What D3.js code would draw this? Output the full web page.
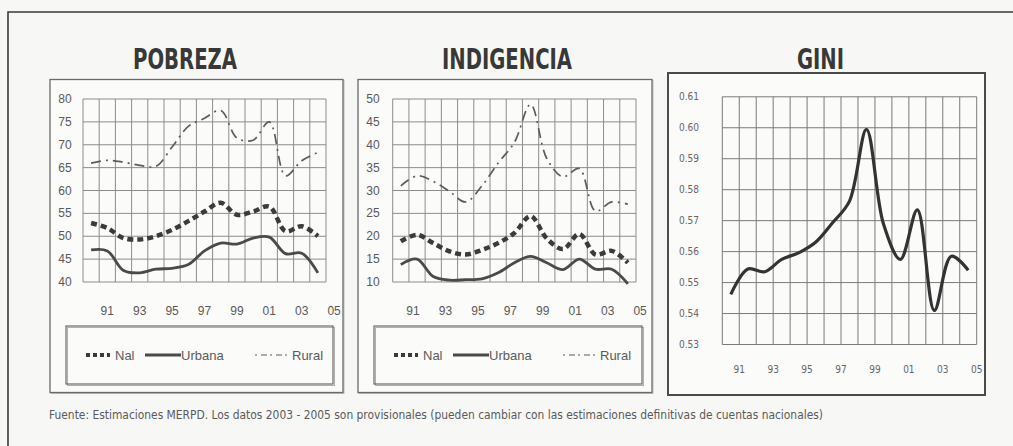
<!DOCTYPE html>
<html>
<head>
<meta charset="utf-8">
<script src="https://cdn.jsdelivr.net/npm/d3@7"></script>
<style>
  body { margin: 0; background: #f7f7f5; }
  svg { display: block; }
</style>
</head>
<body>
<div id="chart"></div>
<script>
// years covered by every series (one value per cell of the grid)
const years = [1991, 1992, 1993, 1994, 1995, 1996, 1997, 1998, 1999, 2000, 2001, 2002, 2003, 2004, 2005];
const tickLabels = ["91", "93", "95", "97", "99", "01", "03", "05"];
const tickCells = [1, 3, 5, 7, 9, 11, 13, 15];

// POBREZA (%)
const pobNal = [52.9, 51.8, 49.6, 49.3, 50.0, 51.4, 53.3, 55.4, 57.3, 54.7, 55.4, 56.5, 51.1, 52.2, 50.0];
const pobUrbana = [47.0, 46.8, 42.5, 42.0, 42.8, 43.0, 43.8, 46.8, 48.5, 48.3, 49.6, 49.8, 46.2, 46.3, 42.0];
const pobRural = [66.0, 66.6, 66.2, 65.5, 65.3, 69.5, 74.0, 75.8, 77.5, 71.5, 71.0, 75.0, 63.2, 66.5, 68.3];
const pobTicks = [40, 45, 50, 55, 60, 65, 70, 75, 80];

// INDIGENCIA (%)
const indNal = [18.9, 20.3, 18.5, 16.7, 16.0, 17.0, 18.5, 20.7, 24.4, 19.5, 17.2, 20.5, 16.0, 16.8, 14.2];
const indUrbana = [13.8, 15.0, 11.2, 10.4, 10.5, 10.7, 12.0, 14.2, 15.6, 14.2, 12.7, 15.0, 12.8, 12.8, 9.6];
const indRural = [31.0, 33.2, 32.0, 29.8, 27.5, 31.0, 36.0, 40.5, 48.8, 37.0, 33.0, 34.8, 25.5, 27.5, 27.0];
const indTicks = [10, 15, 20, 25, 30, 35, 40, 45, 50];

// GINI
const gini = [0.5462, 0.5544, 0.5535, 0.5575, 0.5596, 0.5630, 0.5693, 0.5763, 0.5995, 0.5690, 0.5575, 0.5735, 0.5410, 0.5585, 0.5540];
const giniTicks = [0.53, 0.54, 0.55, 0.56, 0.57, 0.58, 0.59, 0.60, 0.61];

const legendNames = ["Nal", "Urbana", "Rural"];

const W = 1013, H = 446;
const svg = d3.select("#chart").append("svg").attr("width", W).attr("height", H);
svg.append("rect").attr("width", W).attr("height", H).attr("fill", "#f7f7f5");

//outer page frame (left and top only)
svg.append("path").attr("d", "M8," + H + "V12H" + W)
    .attr("fill", "none").attr("stroke", "#3a3a3a").attr("stroke-width", 1.6);

const titleFont = "'Liberation Sans Narrow','DejaVu Sans Condensed','Liberation Sans',sans-serif";
const labelFont = "'Liberation Sans',Arial,sans-serif";

//line styles of the three series
const styles = {
    Nal: {width: 4.5, dash: "6,4", color: "#3b3b3b"},
    Urbana: {width: 2.8, dash: null, color: "#4a4a4a"},
    Rural: {width: 1.7, dash: "10,5,2,5", color: "#5c5c5c"}
};

function title(text, cx, len) {
    svg.append("text")
        .attr("x", cx).attr("y", 69)
        .attr("text-anchor", "middle")
        .attr("font-family", titleFont)
        .attr("font-weight", "bold")
        .attr("font-size", 29)
        .attr("fill", "#383838")
        .attr("textLength", len)
        .attr("lengthAdjust", "spacingAndGlyphs")
        .text(text);
}

function grid(g, x, y, yTicks, color) {
    g.selectAll("line.h").data(yTicks).enter().append("line")
        .attr("x1", x.range()[0]).attr("x2", x.range()[1])
        .attr("y1", d => y(d)).attr("y2", d => y(d))
        .attr("stroke", color).attr("stroke-width", 1);
    g.selectAll("line.v").data(d3.range(0, 16)).enter().append("line")
        .attr("x1", d => x(d)).attr("x2", d => x(d))
        .attr("y1", y.range()[0]).attr("y2", y.range()[1])
        .attr("stroke", color).attr("stroke-width", 1);
}

/**
 * Draw one of the two panels with Nal / Urbana / Rural lines and a legend box
 */
function drawPanel(opts) {
    const g = svg.append("g");
    //panel frame, slightly doubled like the scan
    g.append("rect").attr("x", opts.fx + 1).attr("y", 80.5).attr("width", opts.fw).attr("height", 313)
        .attr("fill", "none").attr("stroke", "#bdbdbd").attr("stroke-width", 1);
    g.append("rect").attr("x", opts.fx).attr("y", 79.5).attr("width", opts.fw).attr("height", 313)
        .attr("fill", "#fbfbfa").attr("stroke", "#6a6a6a").attr("stroke-width", 1.3);

    const x = d3.scaleLinear().domain([0, 15]).range([opts.px0, opts.px1]);
    const y = d3.scaleLinear().domain([opts.yTicks[0], opts.yTicks[opts.yTicks.length - 1]]).range([282, 99]);

    grid(g, x, y, opts.yTicks, "#8c8c8c");

    //y labels
    g.selectAll("text.y").data(opts.yTicks).enter().append("text")
        .attr("x", opts.fx + 15).attr("y", d => y(d) + 4)
        .attr("text-anchor", "middle")
        .attr("font-family", labelFont).attr("font-size", 12).attr("fill", "#595959")
        .text(d => d);
    //x labels, centred in the cells
    g.selectAll("text.x").data(tickLabels).enter().append("text")
        .attr("x", (d, i) => x(tickCells[i] + 0.5) + opts.xOff).attr("y", 315)
        .attr("text-anchor", "middle")
        .attr("font-family", labelFont).attr("font-size", 12).attr("fill", "#595959")
        .text(d => d);

    //the three series
    const line = d3.line()
        .x((d, i) => x(i + 0.5))
        .y(d => y(d))
        .curve(d3.curveCatmullRom.alpha(0.5));
    [["Rural", opts.rural], ["Nal", opts.nal], ["Urbana", opts.urbana]].forEach(function(s) {
        const st = styles[s[0]];
        g.append("path").datum(s[1])
            .attr("d", line)
            .attr("fill", "none")
            .attr("stroke", st.color)
            .attr("stroke-width", st.width)
            .attr("stroke-dasharray", st.dash)
            .attr("stroke-linejoin", "round");
    });

    //legend box
    const lx = opts.fx + 16, lw = opts.fw - 26;
    g.append("rect").attr("x", lx + 1.5).attr("y", 327.5).attr("width", lw).attr("height", 58)
        .attr("fill", "none").attr("stroke", "#b0b0b0").attr("stroke-width", 1);
    g.append("rect").attr("x", lx).attr("y", 326).attr("width", lw).attr("height", 58)
        .attr("fill", "none").attr("stroke", "#6a6a6a").attr("stroke-width", 1.2);

    const items = [
        {name: legendNames[0], x1: 36, x2: 60, tx: 65},
        {name: legendNames[1], x1: 95, x2: 131, tx: 131},
        {name: legendNames[2], x1: 205, x2: 239, tx: 242}
    ];
    items.forEach(function(it) {
        const st = styles[it.name];
        g.append("line")
            .attr("x1", opts.fx + it.x1).attr("x2", opts.fx + it.x2)
            .attr("y1", 355).attr("y2", 355)
            .attr("stroke", st.color)
            .attr("stroke-width", it.name == "Rural" ? 1.2 : (it.name == "Nal" ? 4 : 3.2))
            .attr("stroke-dasharray", it.name == "Nal" ? "4,3" : (it.name == "Rural" ? "2,4,6,3" : null));
        g.append("text")
            .attr("x", opts.fx + it.tx).attr("y", 359.5)
            .attr("font-family", labelFont).attr("font-size", 13).attr("fill", "#5a5a5a")
            .text(it.name);
    });
}

title("POBREZA", 185, 104);
title("INDIGENCIA", 507, 130);
title("GINI", 820.5, 47);

drawPanel({fx: 50, fw: 293, px0: 83, px1: 326, yTicks: pobTicks, xOff: 0,
    nal: pobNal, urbana: pobUrbana, rural: pobRural});
drawPanel({fx: 358, fw: 294, px0: 392.7, px1: 636, yTicks: indTicks, xOff: -4,
    nal: indNal, urbana: indUrbana, rural: indRural});

//GINI panel, thicker frame and no legend
(function() {
    const g = svg.append("g");
    g.append("rect").attr("x", 668).attr("y", 73).attr("width", 317).attr("height", 322)
        .attr("fill", "#fbfbfa").attr("stroke", "#4a4a4a").attr("stroke-width", 2);

    const x = d3.scaleLinear().domain([0, 15]).range([722.3, 976.7]);
    const y = d3.scaleLinear().domain([0.53, 0.61]).range([344.5, 96.8]);
    grid(g, x, y, giniTicks, "#7a7a7a");

    g.selectAll("text.y").data(giniTicks).enter().append("text")
        .attr("x", 689).attr("y", d => y(d) + 3.5)
        .attr("text-anchor", "middle")
        .attr("font-family", titleFont).attr("font-size", 10).attr("fill", "#666")
        .text(d => d3.format(".2f")(d));
    //here the labels sit on the grid lines
    g.selectAll("text.x").data(tickLabels).enter().append("text")
        .attr("x", (d, i) => x(tickCells[i])).attr("y", 373)
        .attr("text-anchor", "middle")
        .attr("font-family", titleFont).attr("font-size", 10).attr("fill", "#666")
        .text(d => d);

    const line = d3.line()
        .x((d, i) => x(i + 0.5))
        .y(d => y(d))
        .curve(d3.curveCatmullRom.alpha(0.5));
    g.append("path").datum(gini)
        .attr("d", line)
        .attr("fill", "none")
        .attr("stroke", "#333")
        .attr("stroke-width", 3.2)
        .attr("stroke-linejoin", "round");
})();

//source note
svg.append("text")
    .attr("x", 49).attr("y", 419)
    .attr("font-family", titleFont).attr("font-size", 11.5).attr("fill", "#5a5a5a")
    .attr("textLength", 774).attr("lengthAdjust", "spacingAndGlyphs")
    .text("Fuente: Estimaciones MERPD. Los datos 2003 - 2005 son provisionales (pueden cambiar con las estimaciones definitivas de cuentas nacionales)");
</script>
</body>
</html>
